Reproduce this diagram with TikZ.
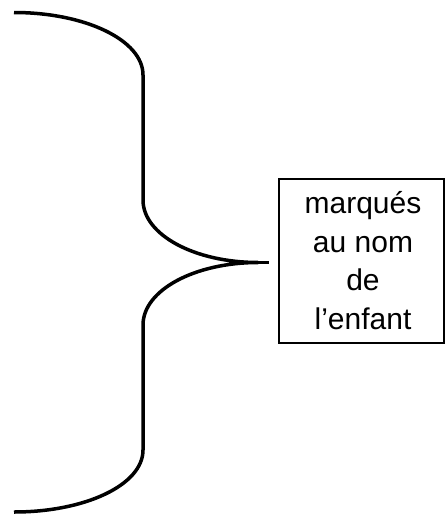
\documentclass[tikz,border=0pt]{standalone}
\usepackage{fontspec}
\setmainfont{Liberation Sans}
\begin{document}
\begin{tikzpicture}[x=1pt,y=-1pt,
  bracestyle/.style={line width=3.5pt,line cap=butt,line join=round},
  boxstyle/.style={draw,line width=1.6pt,minimum width=165pt,minimum height=164.5pt,inner sep=0pt},
  textstyle/.style={inner sep=0pt,align=center,font=\fontsize{30}{38.5}\selectfont}]
\useasboundingbox (0,0) rectangle (446,514);
\coordinate (top) at (14,12.5);
\coordinate (bot) at (14,512);
\coordinate (tip) at (258,262.5);
\coordinate (tipend) at (269,262.5);
\draw[bracestyle] (top) .. controls (85,12.5) and (143,40) .. (143,75)
  -- (143,200) .. controls (143,235) and (195,262.5) .. (tip)
  .. controls (195,262.5) and (143,290) .. (143,325)
  -- (143,450) .. controls (143,485) and (85,512) .. (bot);
\draw[bracestyle] (tip) -- (tipend);
\node[boxstyle] (box) at (361.25,261) {};
\node[textstyle] (label) at (363,260.5) {marqués\\au nom\\de\\l’enfant};
\end{tikzpicture}
\end{document}
